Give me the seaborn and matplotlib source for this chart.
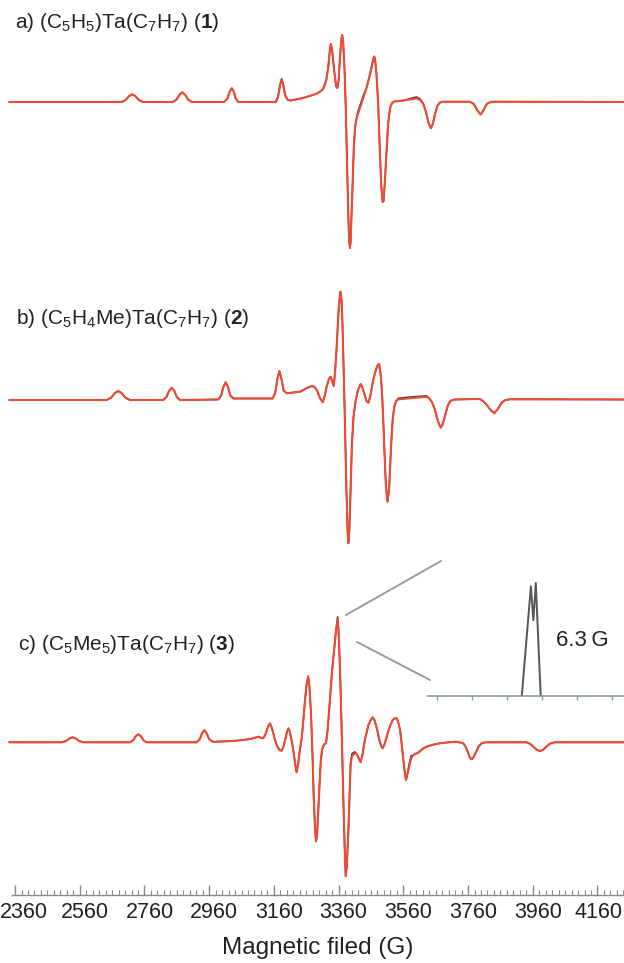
"""EPR spectra of three Ta sandwich complexes, experiment (black) vs simulation (red)."""
import numpy as np
import matplotlib
matplotlib.use("Agg")
import matplotlib.pyplot as plt
import matplotlib.transforms as mtransforms
from matplotlib.lines import Line2D
import seaborn as sns

# --- data: field (G) and signal height (baseline = 0) ---
field_a = [2342, 2690, 2702, 2712, 2722, 2732, 2742, 2756,
           2847, 2859, 2868, 2877, 2886, 2895, 2907,
           3006, 3016, 3023, 3030, 3036, 3042, 3050,
           3166, 3173, 3179, 3184, 3189, 3195, 3203, 3212, 3250, 3290, 3305,
           3312, 3322, 3328, 3333, 3336, 3340, 3346, 3352, 3356, 3360, 3365,
           3369, 3371, 3374, 3378, 3382, 3386, 3390, 3393, 3395, 3397, 3400,
           3404, 3407, 3411, 3415, 3418, 3426, 3436, 3446, 3455, 3462, 3467,
           3470, 3473, 3477, 3482, 3487, 3492, 3496, 3499, 3503, 3508, 3513,
           3519, 3525, 3532, 3560, 3590, 3601, 3612, 3622, 3630, 3638, 3645,
           3651, 3658, 3665, 3673, 3684, 3766, 3778, 3788, 3799, 3808, 3818,
           3830, 3840, 4242]
sim_a = [0, 0, 2, 5.8, 7.7, 5.8, 2, 0,
         0, 2.4, 7.2, 9.7, 7.2, 2.4, 0,
         0, 3.4, 10.3, 13.7, 10.3, 3.4, 0,
         0, 5.5, 17, 23, 17, 6.5, 2, 1.5, 4, 8, 11,
         13, 22, 35, 52, 58, 52, 32, 16, 14, 22, 48,
         64, 67, 60, 35, -5, -60, -115, -140, -146, -140, -112,
         -75, -45, -25, -17, -14, -6, 4, 14, 25, 35, 43,
         45.5, 42, 28, 0, -45, -85, -100, -99, -80, -50, -22,
         -6, -1, 0.5, 1.5, 3, 3.7, 2, -2, -10, -21, -26.3,
         -22, -12, -4, -0.5, 0.3, 0.3, -2, -8, -12.5, -8, -2,
         0, 0.3, 0]
exp_a_diff = {3418: -11.5, 3426: -3.5, 3436: 6.0, 3590: 4.2, 3601: 5.0,
              3612: 3.0}

field_b = [2342, 2643, 2657, 2668, 2679, 2690, 2701, 2715,
           2818, 2828, 2836, 2844, 2852, 2860, 2870,
           2988, 2997, 3004, 3011, 3018, 3025, 3035,
           3156, 3164, 3171, 3177, 3183, 3190, 3200, 3220, 3241, 3262, 3277,
           3286, 3294, 3302, 3311, 3317, 3323, 3330, 3335, 3340, 3345, 3349,
           3354, 3360, 3364, 3366, 3369, 3372, 3376, 3380, 3384, 3388, 3390,
           3393, 3397, 3401, 3406, 3413, 3420, 3428, 3433, 3439, 3446, 3452,
           3458, 3467, 3475, 3481, 3485, 3489, 3493, 3497, 3501, 3506, 3511,
           3516, 3522, 3527, 3532, 3538, 3545, 3590, 3632, 3640, 3648, 3656,
           3663, 3670, 3676, 3682, 3691, 3698, 3706, 3720, 3797, 3808, 3818,
           3830, 3841, 3852, 3864, 3876, 3890, 3982, 4242]
sim_b = [0, 0, 2.3, 6.8, 9, 6.8, 2.3, 0,
         0, 3, 9.2, 12.3, 9.2, 3, 0,
         0.5, 4.4, 13.3, 17.7, 13.3, 4.5, 1.5,
         1.5, 7, 21.5, 29, 21.5, 9.5, 6.7, 7.5, 8.3, 12, 14,
         13, 9, 2, -2.3, 4, 13.3, 21, 23.3, 19, 14, 28,
         53, 90, 105, 108.3, 100, 75, 25, -30, -90, -133, -143.3,
         -132, -90, -45, -17, 0, 10, 16, 13, 6.7, -1, -2.7,
         4, 20, 30, 35, 36, 28, 13.3, -12, -46.7, -85, -101.7,
         -90, -46.7, -20, -6.7, -1, 0.7, 2, 3.3, 1.5, -1.7, -8,
         -16.7, -24, -27.7, -24, -13.3, -5, -0.7, 0.5, 1, -1.5, -5,
         -10, -13.3, -9, -2.7, 0, 0.7, 0.7, 0.5]
exp_b_diff = {3545: 1.8, 3590: 3.2, 3632: 4.2}

field_c = [2342, 2504, 2518, 2528, 2538, 2548, 2558, 2572,
           2715, 2725, 2733, 2741, 2749, 2757, 2767,
           2921, 2931, 2938, 2945, 2952, 2960, 2972,
           3000, 3040, 3066, 3090, 3105, 3112, 3120, 3127, 3134, 3141, 3148,
           3155, 3162, 3170, 3178, 3184, 3190, 3196, 3201, 3205, 3209, 3214,
           3219, 3225, 3230, 3235, 3240, 3246, 3251, 3256, 3261, 3266, 3270,
           3275, 3279, 3283, 3287, 3290, 3293, 3297, 3301, 3305, 3309, 3315,
           3321, 3326, 3333, 3340, 3347, 3352, 3357, 3360, 3364, 3368, 3372,
           3376, 3380, 3382, 3385, 3390, 3394, 3397, 3401, 3405, 3410, 3416,
           3422, 3428, 3434, 3441, 3447, 3452, 3459, 3465, 3471, 3478, 3486,
           3492, 3496, 3502, 3508, 3513, 3520, 3527, 3534, 3540, 3545, 3550,
           3555, 3560, 3565, 3568, 3572, 3578, 3584, 3591, 3598, 3606, 3620,
           3632, 3650, 3673, 3700, 3725, 3745, 3752, 3759, 3765, 3771, 3777,
           3785, 3793, 3802, 3815, 3838, 3941, 3952, 3962, 3972, 3982, 3992,
           4003, 4015, 4029, 4242]
sim_c = [0, 0, 1.3, 3.8, 5, 3.8, 1.3, 0,
         0, 2, 6, 8, 6, 2, 0,
         0, 3, 9.2, 12.3, 9.2, 3, 0.5,
         0.8, 1.5, 2.3, 3.5, 5, 5.6, 4.5, 4, 8, 15, 19,
         13, 4, -4, -8, -8.4, -4, 4, 11, 14, 11, 3,
         -6, -20, -30, -22, -8, 4, 22, 42, 58, 66, 55,
         26, -10, -55, -85, -99, -95, -70, -42, -18, -7, -2,
         -1, 12, 42, 72, 96, 112, 123, 110, 76, 30, -22,
         -75, -120, -134, -125, -90, -50, -22, -14, -12.7, -11, -11.7,
         -16, -20, -12, 2.3, 10, 17.3, 22, 25, 22, 14, 2,
         -4, -6, -2, 5, 10.6, 17, 22.3, 24, 24, 19, 12.3,
         -2, -17.7, -31, -37.7, -33, -24.4, -16, -12.7, -11.5, -10.4, -6.5,
         -4.4, -2.5, -1, 0, 0.6, -1, -4, -9.4, -15, -17, -15,
         -9.4, -4, -1, 0, 0, 0, -1.5, -4.5, -7.5, -8.7, -7.5,
         -4, -1, 0, 0]
exp_c_diff = {3357: 125.5, 3401: -11.5, 3405: -10.5, 3410: -9.5,
              3578: -21.5, 3584: -13.5}

labels = [r"a) (C$_5$H$_5$)Ta(C$_7$H$_7$) ($\mathbf{1}$)",
          r"b) (C$_5$H$_4$Me)Ta(C$_7$H$_7$) ($\mathbf{2}$)",
          r"c) (C$_5$Me$_5$)Ta(C$_7$H$_7$) ($\mathbf{3}$)"]

# zoomed central line of (3): inset position (arb.) vs height
inset_x = [26.8, 28.0, 29.4, 30.1, 30.8, 32.2]
inset_y = [0, 50.7, 109.7, 75.7, 113, 0]

major_ticks = list(range(2360, 4161, 200))

# --- layout (figure is 624 x 963 px) ---
W, H = 624, 963
RED = "#ef4a33"
BLACK = "#333333"
baselines = [102, 400, 742.3]
label_pos = [(15, 22.5), (16.5, 319), (18, 645)]

sns.set_theme(style="white")
plt.rcParams["font.family"] = ["Liberation Sans", "DejaVu Sans"]
plt.rcParams["mathtext.fontset"] = "custom"
plt.rcParams["mathtext.rm"] = "Liberation Sans"
plt.rcParams["mathtext.it"] = "Liberation Sans:italic"
plt.rcParams["mathtext.bf"] = "Liberation Sans:bold"

fig = plt.figure(figsize=(W / 100, H / 100), dpi=100)
spine_y = 895
ax = fig.add_axes([11.5 / W, (H - spine_y) / H, (W - 11.5) / W, spine_y / H])

traces = [(field_a, sim_a, exp_a_diff), (field_b, sim_b, exp_b_diff),
          (field_c, sim_c, exp_c_diff)]
for (fld, sim, diff), base in zip(traces, baselines):
    exp = [diff.get(f, v) for f, v in zip(fld, sim)]
    sns.lineplot(x=fld, y=np.array(exp) - base, ax=ax, color=BLACK, lw=1.1,
                 sort=False, estimator=None, clip_on=False)
    sns.lineplot(x=fld, y=np.array(sim) - base, ax=ax, color=RED, lw=1.5,
                 sort=False, estimator=None, clip_on=False)

ax.set_xlim(2349, 4242)
ax.set_ylim(-spine_y, 0)
ax.set_yticks([])
for s in ["left", "top", "right"]:
    ax.spines[s].set_visible(False)
ax.spines["bottom"].set_color("#888888")
ax.spines["bottom"].set_linewidth(1.0)
ax.set_xticks(major_ticks)
ax.set_xticks(range(2360, 4242, 20), minor=True)
ax.tick_params(axis="x", which="major", direction="in", length=7, width=1,
               color="#888888", labelsize=15.5, labelcolor="#222222", pad=5,
               bottom=True)
ax.tick_params(axis="x", which="minor", direction="in", length=3.5, width=0.8,
               color="#888888", bottom=True)
ax.set_xlabel("Magnetic filed (G)", fontsize=17.5, color="#222222", labelpad=10)

# tick labels sit a few px right of their ticks in the original
ticklabels = ax.get_xticklabels()
for i, lab in enumerate(ticklabels):
    dx = 9 if i == 0 else (1 if i == len(ticklabels) - 1 else 5)
    lab.set_transform(lab.get_transform() +
                      mtransforms.ScaledTranslation(dx / 100, 0, fig.dpi_scale_trans))

for txt, (px, py) in zip(labels, label_pos):
    fig.text(px / W, 1 - py / H, txt, fontsize=15, color="#222222",
             ha="left", va="center")

# inset with the resolved central line
inset = fig.add_axes([428 / W, (H - 696) / H, (W - 428) / W, 121 / H])
sns.lineplot(x=inset_x, y=inset_y, ax=inset, color="#555555", lw=1.4,
             sort=False, estimator=None)
inset.set_xlim(0, 56)
inset.set_ylim(0, 121)
inset.set_facecolor("none")
inset.set_yticks([])
inset.set_xticks([2.5, 12.5, 22.5, 32.5, 42.5, 52.5])
inset.set_xticklabels([])
inset.tick_params(axis="x", direction="out", length=3, width=1,
                  color="#8a99a3", bottom=True)
for s in ["left", "top", "right"]:
    inset.spines[s].set_visible(False)
inset.spines["bottom"].set_color("#8a99a3")
inset.spines["bottom"].set_linewidth(1.2)
fig.text(582.5 / W, 1 - 641 / H, "6.3\u2009G", fontsize=16, color="#222222",
         ha="center", va="center")

for (x0, y0), (x1, y1) in [((346, 615), (441, 561)), ((357, 642), (430, 680))]:
    fig.add_artist(Line2D([x0 / W, x1 / W], [1 - y0 / H, 1 - y1 / H],
                          transform=fig.transFigure, color="#9a9a9a", lw=1.4))

fig.savefig("out.png", dpi=100)
